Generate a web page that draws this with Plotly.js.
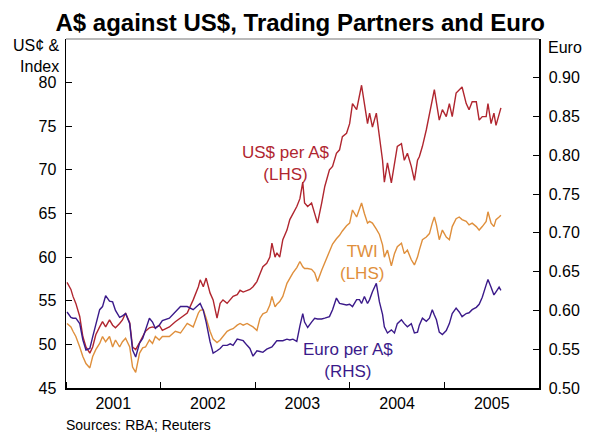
<!DOCTYPE html>
<html>
<head>
<meta charset="utf-8">
<script src="https://cdn.plot.ly/plotly-3.0.1.min.js"></script>
<style>html,body{margin:0;padding:0;background:#fff;}#chart{width:591px;height:432px;}</style>
</head>
<body>
<div id="chart"></div>
<script>
// Observation times as decimal years
const obsTimes = [
 2001.011,2001.053,2001.074,2001.105,2001.147,2001.179,2001.211,2001.253,2001.284,2001.316,2001.358,2001.389,2001.421,2001.463,2001.495,2001.526,2001.568,2001.600,2001.632,2001.674,2001.705,2001.737,2001.779,2001.811,2001.842,2001.884,2001.916,2001.947,2001.989,
 2002.021,2002.095,2002.158,2002.211,2002.284,2002.347,2002.400,2002.421,2002.453,2002.484,2002.526,2002.558,2002.600,2002.632,2002.663,2002.705,2002.737,2002.768,2002.811,2002.842,2002.874,2002.916,2002.947,2002.979,
 2003.021,2003.053,2003.084,2003.126,2003.158,2003.179,2003.211,2003.232,2003.263,2003.295,2003.337,2003.368,2003.400,2003.442,2003.474,2003.505,2003.526,2003.558,2003.600,2003.632,2003.663,2003.705,2003.737,2003.789,2003.821,2003.863,2003.895,2003.926,2003.968,
 2004.000,2004.032,2004.074,2004.105,2004.126,2004.158,2004.189,2004.211,2004.242,2004.284,2004.316,2004.347,2004.368,2004.400,2004.442,2004.474,2004.505,2004.547,2004.579,2004.611,2004.653,2004.684,2004.716,2004.737,2004.768,2004.811,2004.842,2004.874,2004.895,2004.916,2004.947,2004.979,
 2005.021,2005.053,2005.084,2005.126,2005.158,2005.189,2005.232,2005.263,2005.295,2005.337,2005.368,2005.400,2005.442,2005.463,2005.495,2005.526,2005.547,2005.579,2005.600
];
// US cents per A$ (LHS)
const usdPerAud = [
 57.1,56.3,55.5,54.7,53.2,50.9,49.7,49.0,49.7,51.1,52.0,52.6,52.0,52.8,52.2,51.9,52.4,52.8,53.6,52.5,49.7,49.4,50.2,50.9,51.5,51.9,52.0,51.9,52.2,
 51.6,52.0,52.6,53.0,53.6,55.1,56.6,57.4,56.6,57.6,55.9,55.1,53.0,54.7,55.1,54.7,55.1,55.5,55.7,56.2,56.0,56.2,56.3,56.6,
 57.2,58.1,58.9,59.3,60.0,61.6,60.0,60.5,60.0,62.0,63.1,64.3,65.0,65.8,66.7,68.6,66.2,65.8,66.2,65.0,63.9,66.2,68.1,70.0,70.4,71.9,72.3,73.8,74.2,
 75.3,77.6,76.9,78.4,79.7,77.6,75.3,76.5,74.9,76.5,73.8,71.1,68.6,70.8,68.5,70.8,72.7,73.0,71.1,71.9,70.4,68.8,71.1,71.5,72.7,74.6,76.5,78.0,79.2,77.7,75.7,76.9,
 76.1,77.6,76.1,78.8,79.2,79.5,77.6,76.9,77.8,77.8,75.7,76.1,76.1,77.6,75.3,76.5,75.1,76.5,77.1
];
// Trade-weighted index (LHS)
const twi = [
 52.4,52.0,51.5,50.9,49.7,48.6,47.8,47.3,48.6,49.4,50.1,50.9,50.3,50.9,49.7,50.5,49.7,50.3,50.7,49.7,47.4,46.8,49.0,49.6,49.7,50.5,50.1,50.9,50.5,
 50.9,50.9,51.5,51.3,52.4,52.0,53.6,53.9,54.0,53.0,51.5,50.6,50.2,50.5,50.9,51.5,51.7,51.8,52.2,52.4,52.2,52.4,52.2,52.0,
 51.6,53.0,53.5,53.7,54.5,55.5,54.3,54.6,54.9,55.5,57.0,57.6,58.2,58.8,59.5,58.9,58.7,58.7,58.6,58.2,57.2,58.5,59.3,60.6,61.5,62.1,62.5,63.0,63.6,
 63.9,65.4,64.6,65.4,66.2,65.0,63.9,64.1,63.9,63.2,62.6,61.4,60.0,60.8,59.0,60.4,61.2,61.6,60.4,60.8,59.7,59.1,60.0,60.8,62.0,62.3,62.7,63.9,64.6,63.7,62.0,63.1,
 62.3,62.0,63.5,64.4,64.6,64.3,64.1,63.7,63.9,63.5,63.1,63.5,64.1,65.2,63.9,63.5,64.3,64.6,64.8
];
// Euro per A$ (RHS)
const eurPerAud = [
 0.598,0.591,0.590,0.590,0.583,0.562,0.549,0.551,0.566,0.583,0.601,0.605,0.619,0.612,0.611,0.600,0.591,0.593,0.596,0.583,0.549,0.540,0.558,0.564,0.575,0.590,0.585,0.577,0.581,
 0.587,0.590,0.598,0.605,0.605,0.601,0.607,0.609,0.600,0.585,0.560,0.545,0.548,0.551,0.555,0.555,0.557,0.555,0.563,0.562,0.561,0.555,0.551,0.541,
 0.548,0.547,0.546,0.550,0.552,0.553,0.558,0.561,0.561,0.561,0.563,0.562,0.563,0.560,0.580,0.596,0.585,0.578,0.585,0.590,0.589,0.589,0.590,0.592,0.601,0.616,0.609,0.608,0.607,
 0.608,0.605,0.614,0.614,0.609,0.618,0.609,0.614,0.624,0.635,0.611,0.595,0.579,0.571,0.575,0.571,0.583,0.588,0.583,0.579,0.583,0.571,0.572,0.581,0.590,0.586,0.590,0.601,0.594,0.588,0.572,0.569,
 0.574,0.583,0.596,0.603,0.598,0.592,0.596,0.597,0.601,0.604,0.608,0.617,0.633,0.640,0.630,0.620,0.624,0.630,0.626
];
const leftTicks = [45,50,55,60,65,70,75,80];
const rightTicks = [0.50,0.55,0.60,0.65,0.70,0.75,0.80,0.85,0.90];

function decToDate(t){
  const y = Math.floor(t);
  const s = Date.UTC(y,0,1), e = Date.UTC(y+1,0,1);
  return new Date(s + (t - y) * (e - s)).toISOString().slice(0,10);
}
const dates = obsTimes.map(decToDate);

const RED = '#B0262F', ORANGE = '#DF8F3C', PURPLE = '#3B1A8A';
const FONT = 'Arial, "Liberation Sans", sans-serif';

const traces = [
  {x: dates, y: usdPerAud, type: 'scatter', mode: 'lines', line: {color: RED, width: 1.4}, yaxis: 'y', hoverinfo: 'skip'},
  {x: dates, y: twi, type: 'scatter', mode: 'lines', line: {color: ORANGE, width: 1.4}, yaxis: 'y', hoverinfo: 'skip'},
  {x: dates, y: eurPerAud, type: 'scatter', mode: 'lines', line: {color: PURPLE, width: 1.4}, yaxis: 'y2', hoverinfo: 'skip'}
];

const layout = {
  width: 591, height: 432,
  margin: {l: 66, r: 52, t: 39, b: 44},
  paper_bgcolor: '#fff', plot_bgcolor: '#fff',
  showlegend: false,
  font: {family: FONT, size: 16, color: '#000'},
  title: {text: '<b>A$ against US$, Trading Partners and Euro</b>', font: {family: FONT, size: 24, color: '#000'}, x: 0.508, xanchor: 'center', y: 0.948, yanchor: 'middle'},
  xaxis: {
    type: 'date', range: ['2001-01-01', '2006-01-01'],
    tick0: '2001-01-01', dtick: 'M12', tickformat: '%Y', ticklabelmode: 'period',
    ticks: 'inside', ticklen: 6, tickcolor: '#000', tickwidth: 1,
    showline: true, linecolor: '#000', linewidth: 1.5,
    showgrid: false, zeroline: false, fixedrange: true,
    tickfont: {size: 16}
  },
  yaxis: {
    range: [45, 85], tickvals: leftTicks, ticks: 'inside', ticklen: 6, tickcolor: '#000',
    showline: true, linecolor: '#000', linewidth: 1.5,
    showgrid: false, zeroline: false, ticklabelstandoff: 5, tickfont: {size: 16}
  },
  yaxis2: {
    range: [0.50, 0.95], tickvals: rightTicks, tickformat: '.2f', overlaying: 'y', side: 'right',
    ticks: 'inside', ticklen: 6, tickcolor: '#000',
    showline: true, linecolor: '#000', linewidth: 1.5,
    showgrid: false, zeroline: false, ticklabelstandoff: 5, tickfont: {size: 16}
  },
  shapes: [
    {type: 'line', xref: 'paper', yref: 'paper', x0: 0, x1: 1, y0: 1, y1: 1, line: {color: '#777', width: 1.2}}
  ],
  annotations: [
    {text: 'US¢ &<br>Index', xref: 'paper', yref: 'paper', x: -0.008, y: 0.95, xanchor: 'right', yanchor: 'middle', align: 'right', showarrow: false, font: {size: 16}},
    {text: 'Euro', xref: 'paper', yref: 'paper', x: 1.015, y: 0.977, xanchor: 'left', yanchor: 'middle', align: 'left', showarrow: false, font: {size: 16}},
    {text: 'US$ per A$<br>(LHS)', xref: 'paper', yref: 'paper', x: (285-66)/473, y: (388-163)/349, xanchor: 'center', yanchor: 'middle', showarrow: false, font: {size: 17, color: RED}},
    {text: 'TWI<br>(LHS)', xref: 'paper', yref: 'paper', x: (362-66)/473, y: (388-262)/349, xanchor: 'center', yanchor: 'middle', showarrow: false, font: {size: 17, color: ORANGE}},
    {text: 'Euro per A$<br>(RHS)', xref: 'paper', yref: 'paper', x: (348-66)/473, y: (388-360)/349, xanchor: 'center', yanchor: 'middle', showarrow: false, font: {size: 17, color: PURPLE}},
    {text: 'Sources: RBA; Reuters', xref: 'paper', yref: 'paper', x: -0.004, y: -0.106, xanchor: 'left', yanchor: 'middle', showarrow: false, font: {size: 14}}
  ]
};

Plotly.newPlot('chart', traces, layout, {staticPlot: true, displayModeBar: false});
</script>
</body>
</html>
